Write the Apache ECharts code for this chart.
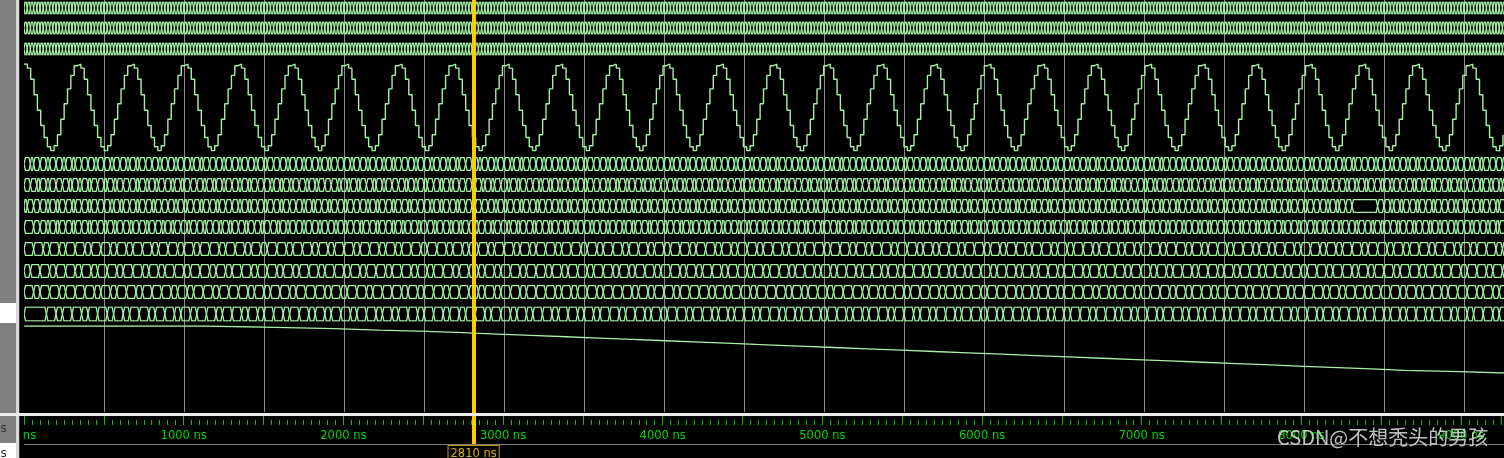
<!DOCTYPE html>
<html>
<head>
<meta charset="utf-8">
<title>wave</title>
<script src="https://cdn.jsdelivr.net/npm/echarts@6/dist/echarts.min.js"></script>
<style>
html, body { margin: 0; padding: 0; background: #000; }
#main { width: 1504px; height: 458px; }
</style>
</head>
<body>
<div id="main"></div>
<script>
// time axis, ns
const timeMax = 9250
const majorStep = 500
const cursorNs = 2810

// the three top buses change every clock
const clkSegNs = 20
const bus4Seg = [40, 20, 40, 40, 20, 40, 40, 20, 40, 20, 40, 40]
const bus5Seg = [40, 40, 20, 40, 20, 40, 40, 40, 20, 40, 20, 40, 20]
const bus6Seg = [20, 40, 40, 40, 20, 40, 20, 40, 40, 20, 40, 40]
const bus6Hold = [8300, 8460]
const bus7Lead = [60]
const bus7Seg = [40, 40, 20, 40, 20, 40, 40, 20, 40, 40, 20]
const bus8Seg = [60, 60, 40, 60, 40, 60, 60, 40]
const bus9Seg = [40, 60, 60, 40, 60, 60, 40, 60]
const bus10Seg = [60, 40, 60, 60, 40, 60, 60, 60, 40]
const bus11Lead = [140]
const bus11Seg = [60, 40, 60, 60, 40, 60, 60, 40]

// one period of the rom output, starting on a peak
const sineTable = [255, 243, 211, 166, 121, 77, 42, 15, 4, 18, 50, 95, 140, 183, 222, 250]
const sinePeriodNs = 334.6

// slow ramp at the bottom: level drops by one at each time
const rampStart = 35
const rampSteps = [1112, 1575, 1937, 2219, 2519, 2744, 2960, 3170, 3385, 3590, 3800, 4010,
  4225, 4430, 4640, 4850, 5060, 5270, 5480, 5690, 5900, 6110, 6320, 6530, 6740, 6950,
  7160, 7370, 7580, 7790, 8000, 8210, 8420, 8630, 8975]

const green = '#a6f0a6'

function buildSegs(lead, cycle, hold) {
  let edges = [0]
  let t = 0
  lead.forEach((d) => { t += d; edges.push(t) })
  let i = 0
  while (t < timeMax) {
    t += cycle[i % cycle.length]
    edges.push(t)
    i++
  }
  if (hold) {
    edges = edges.filter((x) => x <= hold[0] || x >= hold[1])
    edges.push(hold[0], hold[1])
    edges = [...new Set(edges)].sort((a, b) => a - b)
  }
  const segs = []
  for (let k = 0; k < edges.length - 1; k++) segs.push([edges[k], edges[k + 1]])
  return segs
}

function busItem(params, api) {
  const x0 = api.coord([api.value(0), 0])[0]
  const x1 = api.coord([api.value(1), 0])[0]
  const cs = params.coordSys
  const top = cs.y + 0.5
  const bot = cs.y + cs.height - 0.5
  const mid = (top + bot) / 2
  const b = Math.min(1.5, (x1 - x0) / 3)
  return {
    type: 'polygon',
    shape: { points: [[x0, mid], [x0 + b, top], [x1 - b, top], [x1, mid], [x1 - b, bot], [x0 + b, bot]] },
    style: { fill: 'none', stroke: green, lineWidth: 1.3 }
  }
}

const sineData = []
const sineStep = sinePeriodNs / sineTable.length
for (let k = 0; k * sineStep <= timeMax; k++) {
  sineData.push([k * sineStep, sineTable[k % sineTable.length]])
}

const rampData = [[0, rampStart]]
rampSteps.forEach((t, i) => rampData.push([t, rampStart - 1 - i]))
rampData.push([timeMax, rampStart - rampSteps.length])

// layout of the rows
const rows = [
  { top: 1.5, h: 13, segs: buildSegs([], [clkSegNs]) },
  { top: 21.5, h: 13, segs: buildSegs([], [clkSegNs]) },
  { top: 42.5, h: 13, segs: buildSegs([], [clkSegNs]) },
  { top: 157, h: 14, segs: buildSegs([], bus4Seg) },
  { top: 178, h: 14, segs: buildSegs([], bus5Seg) },
  { top: 199, h: 14, segs: buildSegs([], bus6Seg, bus6Hold) },
  { top: 220, h: 14, segs: buildSegs(bus7Lead, bus7Seg) },
  { top: 242, h: 14, segs: buildSegs([], bus8Seg) },
  { top: 264, h: 14, segs: buildSegs([], bus9Seg) },
  { top: 285, h: 14, segs: buildSegs([], bus10Seg) },
  { top: 306.5, h: 15, segs: buildSegs(bus11Lead, bus11Seg) }
]

const grids = []
const xAxes = []
const yAxes = []
const series = []

function addGrid(top, height, yMin, yMax) {
  const idx = grids.length
  grids.push({ left: 24, right: 0, top: top, height: height })
  xAxes.push({ gridIndex: idx, type: 'value', min: 0, max: timeMax, show: false })
  yAxes.push({ gridIndex: idx, type: 'value', min: yMin, max: yMax, show: false })
  return idx
}

// gridlines
const gMain = addGrid(0, 412, 0, 1)
xAxes[gMain] = {
  gridIndex: gMain, type: 'value', min: 0, max: timeMax, interval: majorStep,
  axisLine: { show: false, onZero: false }, axisTick: { show: false }, axisLabel: { show: false },
  splitLine: { show: true, showMinLine: false, showMaxLine: false, lineStyle: { color: '#8c8c8c', width: 1 } }
}

rows.forEach((r) => {
  const g = addGrid(r.top, r.h, 0, 1)
  series.push({
    type: 'custom', xAxisIndex: g, yAxisIndex: g, renderItem: busItem,
    data: r.segs, encode: { x: [0, 1] }, clip: true, silent: true, progressive: 0
  })
})

const gSine = addGrid(64, 88, 0, 255)
series.push({
  type: 'line', xAxisIndex: gSine, yAxisIndex: gSine, step: 'end', showSymbol: false,
  data: sineData, lineStyle: { color: green, width: 1.4 }, silent: true
})

const gRamp = addGrid(326, 47, 0, rampStart)
series.push({
  type: 'line', xAxisIndex: gRamp, yAxisIndex: gRamp, step: 'end', showSymbol: false,
  data: rampData, lineStyle: { color: green, width: 1.3 }, silent: true
})

// time scale
const gTime = addGrid(425, 19, 0, 1)
xAxes[gTime] = {
  gridIndex: gTime, type: 'value', min: 0, max: timeMax, interval: majorStep, position: 'top',
  axisLine: { show: false, onZero: false },
  axisTick: { show: true, length: 9, lineStyle: { color: '#00c000', width: 1 } },
  minorTick: { show: true, splitNumber: 10, length: 5, lineStyle: { color: '#00c000', width: 1 } },
  splitLine: { show: false },
  axisLabel: {
    inside: true, margin: 5, color: '#00d800', fontSize: 11.5, fontFamily: 'DejaVu Sans',
    formatter: (v) => (v % 1000 === 0 ? v + ' ns' : '')
  }
}

// cursor
const gCur = addGrid(0, 446, 0, 1)
series.push({
  type: 'line', xAxisIndex: gCur, yAxisIndex: gCur, data: [], z: 200,
  markLine: {
    silent: true, symbol: 'none', animation: false,
    lineStyle: { color: '#ffcc00', width: 4, type: 'solid' },
    label: {
      show: true, position: 'start', distance: 0, formatter: cursorNs + ' ns',
      color: '#e0b000', fontSize: 11.5, fontFamily: 'DejaVu Sans',
      backgroundColor: '#000', borderColor: '#c09a00', borderWidth: 1, padding: [2, 2]
    },
    data: [{ xAxis: cursorNs }]
  }
})

const chart = echarts.init(document.getElementById('main'))
chart.setOption({
  animation: false,
  backgroundColor: '#000',
  grid: grids,
  xAxis: xAxes,
  yAxis: yAxes,
  series: series,
  graphic: [
    { type: 'rect', z: 100, shape: { x: 0, y: 0, width: 16, height: 413 }, style: { fill: '#808080' } },
    { type: 'rect', z: 101, shape: { x: 0, y: 303, width: 16, height: 20 }, style: { fill: '#ffffff' } },
    { type: 'rect', z: 100, shape: { x: 16, y: 0, width: 3, height: 458 }, style: { fill: '#d8d8d8' } },
    { type: 'rect', z: 100, shape: { x: 19, y: 0, width: 1, height: 458 }, style: { fill: '#3a3a3a' } },
    { type: 'rect', z: 100, shape: { x: 20, y: 428, width: 3, height: 15 }, style: { fill: '#000' } },
    { type: 'rect', z: 100, shape: { x: 0, y: 413, width: 1504, height: 3 }, style: { fill: '#ececec' } },
    { type: 'rect', z: 100, shape: { x: 0, y: 416, width: 16, height: 27 }, style: { fill: '#808080' } },
    { type: 'rect', z: 100, shape: { x: 0, y: 443, width: 16, height: 15 }, style: { fill: '#ffffff' } },
    { type: 'text', z: 101, x: -7, y: 423, style: { text: 'ns', fill: '#303030', font: '12px "DejaVu Sans"' } },
    { type: 'text', z: 101, x: -7, y: 448, style: { text: 'ns', fill: '#303030', font: '12px "DejaVu Sans"' } },
    { type: 'line', z: 100, shape: { x1: 24, y1: 444.5, x2: 1504, y2: 444.5 }, style: { stroke: '#7a7a7a', lineWidth: 1 } },
    {
      type: 'text', z: 150, x: 1277, y: 427,
      style: { text: 'CSDN@不想秃头的男孩', fill: 'rgba(225,225,225,0.85)', font: '20px "Noto Sans CJK SC"' }
    }
  ]
})
</script>
</body>
</html>
